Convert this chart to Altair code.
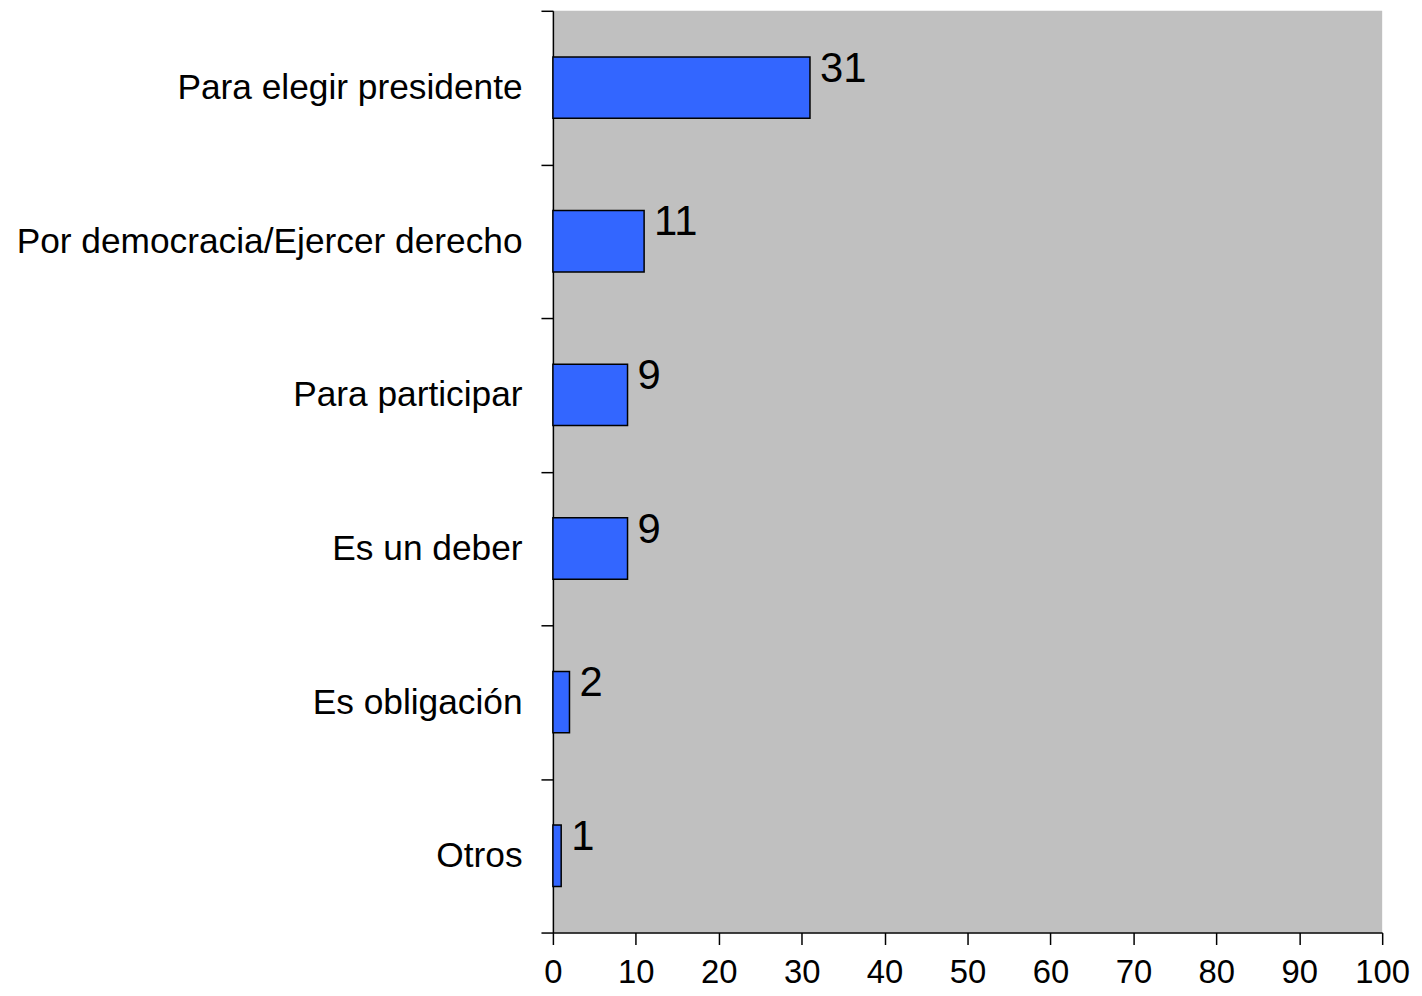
import altair as alt
import pandas as pd

categories = ["Para elegir presidente", "Por democracia/Ejercer derecho",
              "Para participar", "Es un deber", "Es obligación", "Otros"]
values = [31, 11, 9, 9, 2, 1]
x_ticks = [0, 10, 20, 30, 40, 50, 60, 70, 80, 90, 100]

df = pd.DataFrame({"cat": categories, "val": values})

FONT = "Liberation Sans"

y_enc = alt.Y("cat:N", sort=categories, title=None,
              scale=alt.Scale(paddingInner=0, paddingOuter=0),
              axis=alt.Axis(tickBand="extent", tickSize=12, tickColor="black",
                            domainColor="black", domainWidth=1.5, tickWidth=1.5,
                            labelFont=FONT, labelFontSize=35.5,
                            labelColor="black", labelPadding=19, labelLimit=800))
x_enc = alt.X("val:Q", title=None,
              scale=alt.Scale(domain=[0, 100], nice=False),
              axis=alt.Axis(values=x_ticks, tickSize=12, tickColor="black",
                            domainColor="black", domainWidth=1.5, tickWidth=1.5,
                            grid=False, labelFont=FONT, labelFontSize=33,
                            labelFlush=False,
                            labelColor="black", labelPadding=12))

bars = alt.Chart(df).mark_bar(color="#3366FF", stroke="black", strokeWidth=1.5,
                              height={"band": 0.4}).encode(x=x_enc, y=y_enc)
labels = alt.Chart(df).mark_text(align="left", baseline="alphabetic", dx=10, dy=-6,
                                 font=FONT, fontSize=42,
                                 color="black").encode(
    x=alt.X("val:Q"), y=alt.Y("cat:N", sort=categories), text="val:Q")

chart = (bars + labels).properties(
    width=834, height=927,
    autosize=alt.AutoSizeParams(type="none"),
    padding={"left": 548, "top": 0, "right": 32, "bottom": 60},
    background="white",
).configure_view(fill="#C0C0C0", stroke=None)

chart.save("out.html", embed_options={"renderer": "svg", "actions": False})
